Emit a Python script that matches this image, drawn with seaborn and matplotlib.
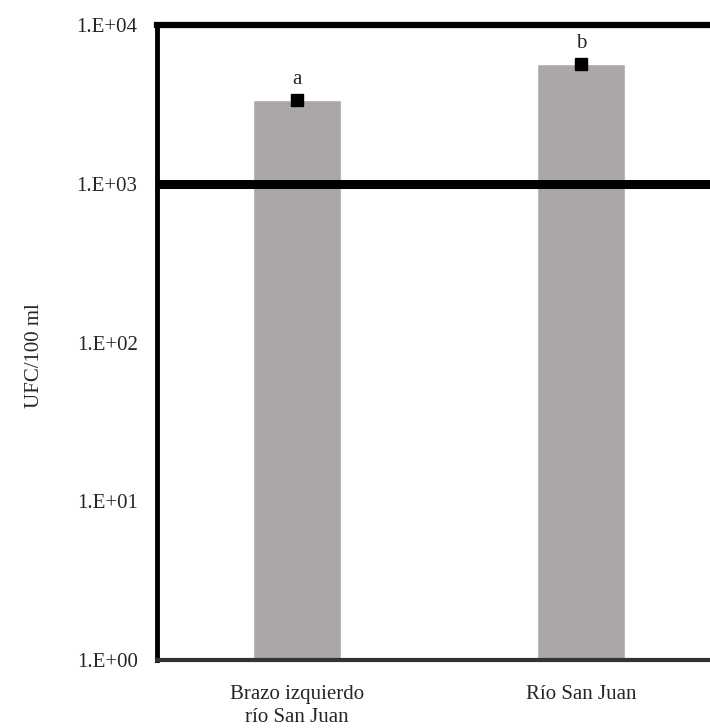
import matplotlib
matplotlib.use("Agg")
import matplotlib.pyplot as plt
import seaborn as sns
import pandas as pd
import numpy as np

categories = ["Brazo izquierdo\nrío San Juan", "Río San Juan"]
values = [3370, 5690]
letters = ["a", "b"]
threshold = 1000
yticks = [1, 10, 100, 1000, 10000]
ytick_labels = ["1.E+00", "1.E+01", "1.E+02", "1.E+03", "1.E+04"]

sns.set_style("white")
plt.rcParams["font.family"] = ["Liberation Serif", "DejaVu Serif"]

W, H = 710, 728
fig = plt.figure(figsize=(W / 100, H / 100), dpi=100)
ax = fig.add_axes([157 / W, (H - 660) / H, (721 - 157) / W, (660 - 25) / H])

df = pd.DataFrame({"cat": categories, "val": values})
sns.barplot(data=df, x="cat", y="val", color="#aba7a7", width=0.31,
            saturation=1, ax=ax, zorder=2)
ax.set_yscale("log")
ax.set_ylim(1, 10000)
ax.set_xlim(-0.493, 1.493)

ax.plot(range(len(values)), values, linestyle="none", marker="s",
        markersize=9, color="black", zorder=4)
for i, (v, l) in enumerate(zip(values, letters)):
    ax.annotate(l, (i, v), xytext=(0, 8), textcoords="offset points",
                ha="center", va="bottom", fontsize=15)

ax.axhline(threshold, color="black", linewidth=6.5, zorder=3)

ax.set_yticks(yticks)
ax.set_yticklabels(ytick_labels)
ax.yaxis.set_minor_locator(matplotlib.ticker.NullLocator())
ax.tick_params(axis="y", length=0, pad=14, labelsize=15)
ax.tick_params(axis="x", length=0, pad=18, labelsize=15)
for t in ax.get_xticklabels():
    t.set_linespacing(1.25)
ax.set_xlabel("")
ax.set_ylabel("UFC/100 ml", fontsize=15)
ax.yaxis.set_label_coords(-0.20, 0.48)

ax.spines["left"].set_linewidth(3.5)
ax.spines["left"].set_color("black")
ax.spines["top"].set_linewidth(4.5)
ax.spines["top"].set_color("black")
ax.spines["bottom"].set_linewidth(3)
ax.spines["bottom"].set_color("#333333")
ax.spines["right"].set_visible(False)
for s in ax.spines.values():
    s.set_zorder(5)

fig.savefig("out.png", dpi=100)
